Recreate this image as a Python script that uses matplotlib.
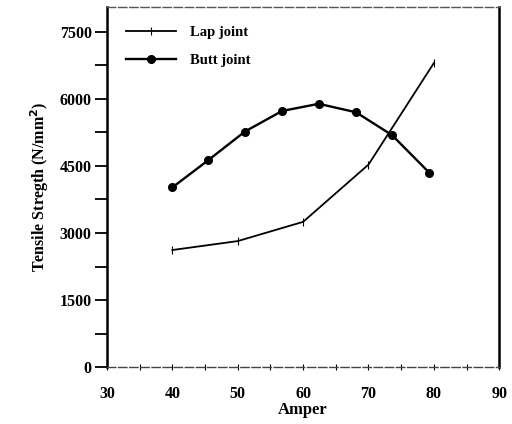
import matplotlib.pyplot as plt
from matplotlib.ticker import MultipleLocator

plt.rcParams['font.family'] = ['Liberation Serif', 'DejaVu Serif']
plt.rcParams['font.weight'] = 'bold'

# Lap joint data
lap_amper = [40, 50, 60, 70, 80]
lap_strength = [2620, 2820, 3250, 4530, 6800]

# Butt joint data
butt_amper = [40, 45.5, 51.1, 56.8, 62.4, 68.1, 73.6, 79.3]
butt_strength = [4020, 4630, 5270, 5730, 5890, 5700, 5190, 4350]

fig = plt.figure(figsize=(5.12, 4.24), dpi=100)
ax = fig.add_axes([0.209, 0.134, 0.766, 0.849])

ax.plot(lap_amper, lap_strength, color='black', lw=1.3, marker='|', ms=6, mew=0.8,
        label='Lap joint')
ax.plot(butt_amper, butt_strength, color='black', lw=1.7, marker='o', ms=5.5,
        label='Butt joint')

ax.set_xlim(30, 90)
ax.set_ylim(0, 8050)
ax.xaxis.set_major_locator(MultipleLocator(10))
ax.xaxis.set_minor_locator(MultipleLocator(5))
ax.yaxis.set_major_locator(MultipleLocator(1500))
ax.yaxis.set_minor_locator(MultipleLocator(750))

ax.tick_params(axis='y', which='major', direction='out', length=9, width=1.3,
               labelsize=11.5, pad=2)
ax.tick_params(axis='y', which='minor', direction='out', length=9, width=1.3)
ax.tick_params(axis='x', which='both', direction='inout', length=5, width=0.8,
               labelsize=11.5, pad=11)
for lbl in ax.get_xticklabels() + ax.get_yticklabels():
    lbl.set_fontweight('bold')

ax.spines['left'].set_linewidth(1.8)
ax.spines['right'].set_linewidth(1.8)
ax.spines['top'].set_linewidth(1.0)
ax.spines['top'].set_linestyle((0, (6, 2)))
ax.spines['top'].set_color('#555555')
ax.spines['bottom'].set_linewidth(1.0)
ax.spines['bottom'].set_linestyle((0, (6, 2)))
ax.spines['bottom'].set_color('#444444')

ax.set_xlabel('Amper', fontsize=12, fontweight='bold', labelpad=0)
ax.set_ylabel('Tensile Stregth (N/mm$^\\mathbf{2}$)', fontsize=11.5, fontweight='bold',
              labelpad=6)

ax.legend(loc='upper left', frameon=False, handlelength=3.4,
          borderaxespad=0.9, labelspacing=1.0, handletextpad=1.0,
          prop={'weight': 'bold', 'size': 10.5})

fig.savefig('out.png', dpi=100)
